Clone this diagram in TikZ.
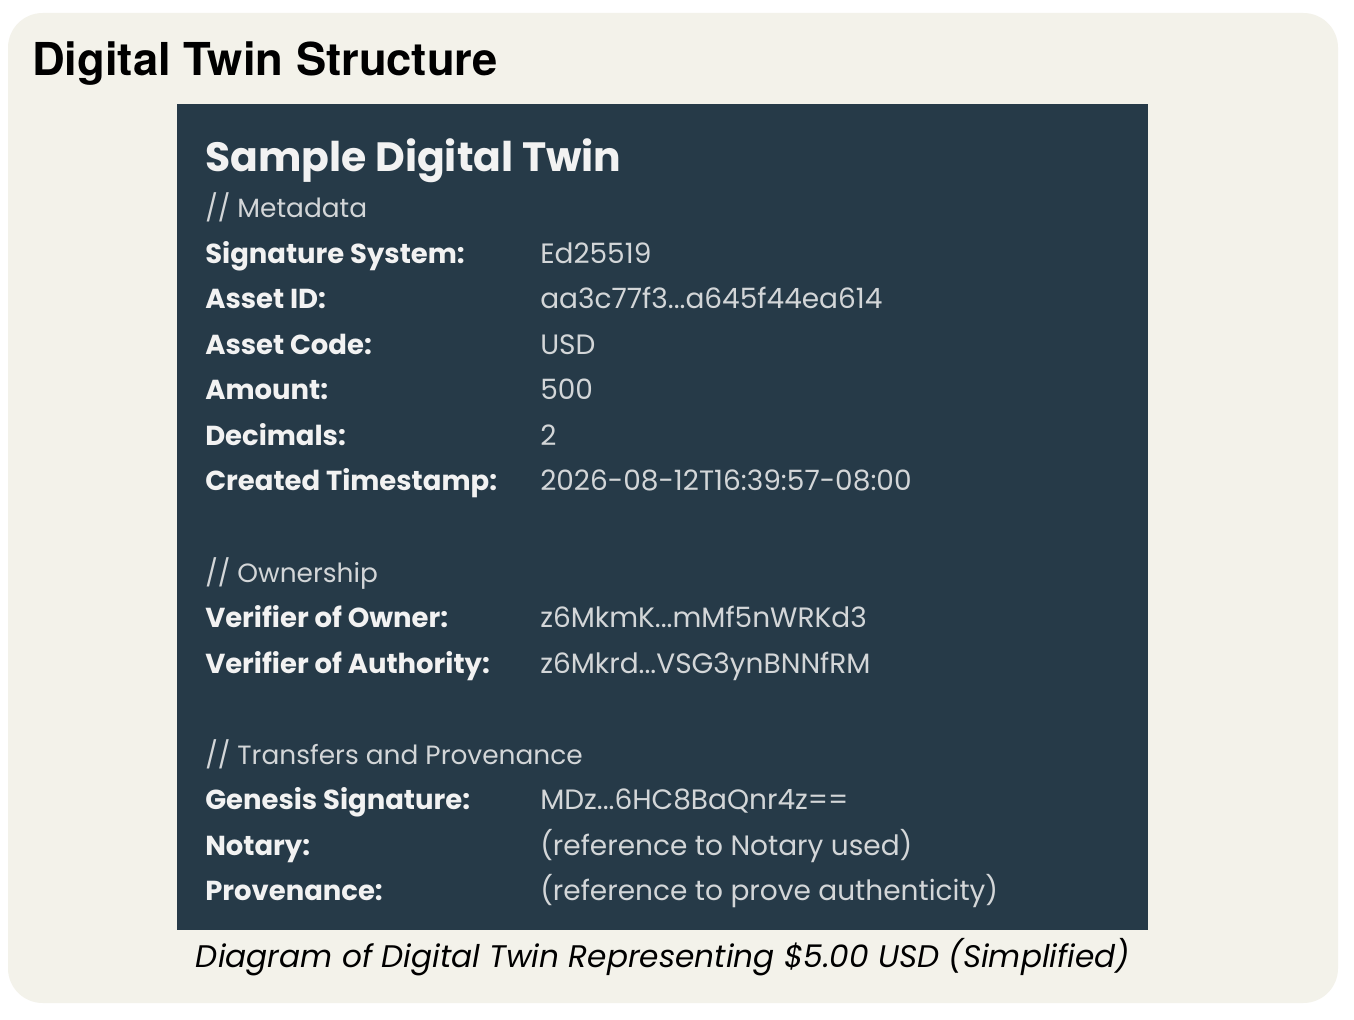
\documentclass[tikz,border=0pt]{standalone}
\usepackage{fontspec}
\setmainfont{Poppins}
\newfontfamily\heros{TeX Gyre Heros}
\definecolor{paper}{HTML}{F3F2EA}
\definecolor{slate}{HTML}{263A48}
\definecolor{ink}{HTML}{F2F2F2}
\tikzset{
  field/.style={anchor=base west,inner sep=0pt,text=ink,font=\fontsize{20.6}{22}\selectfont\bfseries},
  entry/.style={anchor=base west,inner sep=0pt,text=ink!85!slate,font=\fontsize{21}{23}\selectfont},
  remark/.style={anchor=base west,inner sep=0pt,text=ink!85!slate,font=\fontsize{19.8}{22}\selectfont}
}
\begin{document}
\begin{tikzpicture}[x=0.75pt,y=-0.75pt]
\useasboundingbox (0,0) rectangle (1354,1020);
\fill[white] (0,0) rectangle (1354,1020);
\fill[paper,rounded corners=26pt] (8,13) rectangle (1338,1003);
\node[anchor=base west,inner sep=0pt,font=\heros\fontsize{34}{36}\selectfont\bfseries] (title) at (32,76) {Digital Twin Structure};
\fill[slate] (177,104) rectangle (1148,930);
\node[anchor=base west,inner sep=0pt,text=ink,font=\fontsize{30.7}{32}\selectfont\bfseries] (head) at (205,172) {Sample Digital Twin};
% metadata
\node[remark] (meta) at (205,218) {// Metadata};
\node[field] (sig) at (205,263) {Signature System:};
\node[entry] (sigv) at (540,263) {Ed25519};
\node[field] (aid) at (205,308) {Asset ID:};
\node[entry] (aidv) at (540,308) {aa3c77f3...a645f44ea614};
\node[field] (acode) at (205,354) {Asset Code:};
\node[entry] (acodev) at (540,354) {USD};
\node[field] (amt) at (205,399) {Amount:};
\node[entry] (amtv) at (540,399) {500};
\node[field] (dec) at (205,445) {Decimals:};
\node[entry] (decv) at (540,445) {2};
\node[field] (ts) at (205,490) {Created Timestamp:};
\node[entry] (tsv) at (540,490) {2026-08-12T16:39:57-08:00};
% ownership
\node[remark] (own) at (205,582) {// Ownership};
\node[field] (vown) at (205,627) {Verifier of Owner:};
\node[entry] (vownv) at (540,627) {z6MkmK...mMf5nWRKd3};
\node[field] (vauth) at (205,673) {Verifier of Authority:};
\node[entry] (vauthv) at (540,673) {z6Mkrd...VSG3ynBNNfRM};
% transfers
\node[remark] (trans) at (205,764) {// Transfers and Provenance};
\node[field] (gen) at (205,809) {Genesis Signature:};
\node[entry] (genv) at (540,809) {MDz...6HC8BaQnr4z==};
\node[field] (nota) at (205,855) {Notary:};
\node[entry] (notav) at (540,855) {(reference to Notary used)};
\node[field] (prov) at (205,900) {Provenance:};
\node[entry] (provv) at (540,900) {(reference to prove authenticity)};
\node[inner sep=0pt,font=\fontsize{23.4}{25}\selectfont\itshape] (cap) at (663,957) {Diagram of Digital Twin Representing \$5.00 USD (Simplified)};
\end{tikzpicture}
\end{document}
